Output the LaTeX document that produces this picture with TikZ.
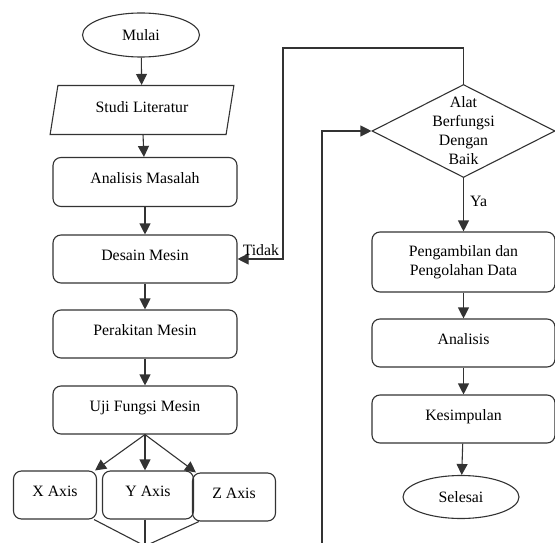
\documentclass[tikz,border=0pt]{standalone}
\usepackage{fontspec}
\setmainfont{Liberation Serif}
\usetikzlibrary{arrows.meta,shapes.geometric}
\tikzset{
  garis/.style={draw=black!80, line width=1.1pt},
  panah/.style={garis, -{Triangle[width=11pt,length=11pt]}},
  proses/.style={garis, rounded corners=8pt, minimum width=184pt, minimum height=48pt, inner sep=2pt, align=center},
  naik/.style={text height=11pt, text depth=8pt},
  sumbu/.style={garis, naik, rounded corners=8pt, minimum width=83pt, minimum height=48pt, inner sep=2pt},
  terminal/.style={garis, ellipse, minimum width=117pt, minimum height=44pt, inner sep=0pt},
  data/.style={garis, trapezium, trapezium left angle=75, trapezium right angle=105, trapezium stretches=true, minimum width=184pt, minimum height=49pt, inner sep=0pt},
  keputusan/.style={garis, diamond, minimum width=183pt, minimum height=93pt, inner sep=0pt}
}
\begin{document}
\begin{tikzpicture}[x=1pt,y=-1pt,font=\fontsize{15.8}{19}\selectfont]
  % page size
  \useasboundingbox (0,0) rectangle (555,543);
  % left column
  \node[terminal] (mulai) at (141,35) {Mulai};
  \node[data, text height=11pt, text depth=5pt] (studi) at (142,110) {Studi Literatur};
  \node[proses, naik, minimum height=49pt] (masalah) at (145,182) {Analisis Masalah};
  \node[proses, naik] (desain) at (145,259) {Desain Mesin};
  \node[proses, naik] (rakit) at (145,334) {Perakitan Mesin};
  \node[proses, naik] (uji) at (145,410) {Uji Fungsi Mesin};
  % three axes
  \node[sumbu] (xaxis) at (55,495) {X Axis};
  \node[sumbu, minimum width=91pt] (yaxis) at (148,495) {Y Axis};
  \node[sumbu] (zaxis) at (234,497) {Z Axis};
  \coordinate (gabung) at (145,546);
  % right column
  \node[keputusan] (cek) at (463.5,131) {};
  \node[align=center, inner sep=0pt] (cektxt) at (cek) {Alat\\Berfungsi\\Dengan\\Baik};
  \node[proses, minimum width=183pt, minimum height=60pt] (ambil) at (463.5,262) {Pengambilan dan\\Pengolahan Data};
  \node[proses, naik, minimum width=183pt] (analisis) at (463.5,343) {Analisis};
  \node[proses, naik, minimum width=183pt] (simpul) at (463.5,419) {Kesimpulan};
  \node[terminal, minimum width=116pt, minimum height=43pt] (selesai) at (461,497) {Selesai};
  % main flow
  \draw[panah] (mulai) -- (studi);
  \draw[panah] (studi) -- (masalah);
  \draw[panah] (masalah) -- (desain);
  \draw[panah] (desain) -- (rakit);
  \draw[panah] (rakit) -- (uji);
  \draw[panah] (uji.south) -- ([xshift=-2pt]xaxis.north east);
  \draw[panah] (uji.south) -- (uji.south |- yaxis.north);
  \draw[panah] (uji.south) -- ([xshift=4pt]zaxis.north west);
  % axes join below
  \draw[garis] ([xshift=-3pt]xaxis.south east) -- (gabung);
  \draw[garis] (gabung |- yaxis.south) -- (gabung);
  \draw[garis] ([xshift=7pt]zaxis.south west) -- (gabung);
  % decision loop back (Tidak)
  \coordinate (atas) at (283,48);
  \draw[panah] (cek.north) |- (atas) |- (desain.east);
  \node[anchor=south west, inner sep=1pt] (tidak) at ([xshift=4pt,yshift=2pt]desain.east) {Tidak};
  % line coming in from below
  \coordinate (bawah) at (322,546);
  \draw[panah] (bawah) |- (cek.west);
  % decision Ya
  \draw[panah] (cek.south) -- (ambil.north);
  \node[anchor=west, inner sep=0pt] (ya) at (470,201) {Ya};
  \draw[panah] (ambil) -- (analisis);
  \draw[panah] (analisis) -- (simpul);
  \draw[panah] (simpul) -- (selesai);
\end{tikzpicture}
\end{document}
